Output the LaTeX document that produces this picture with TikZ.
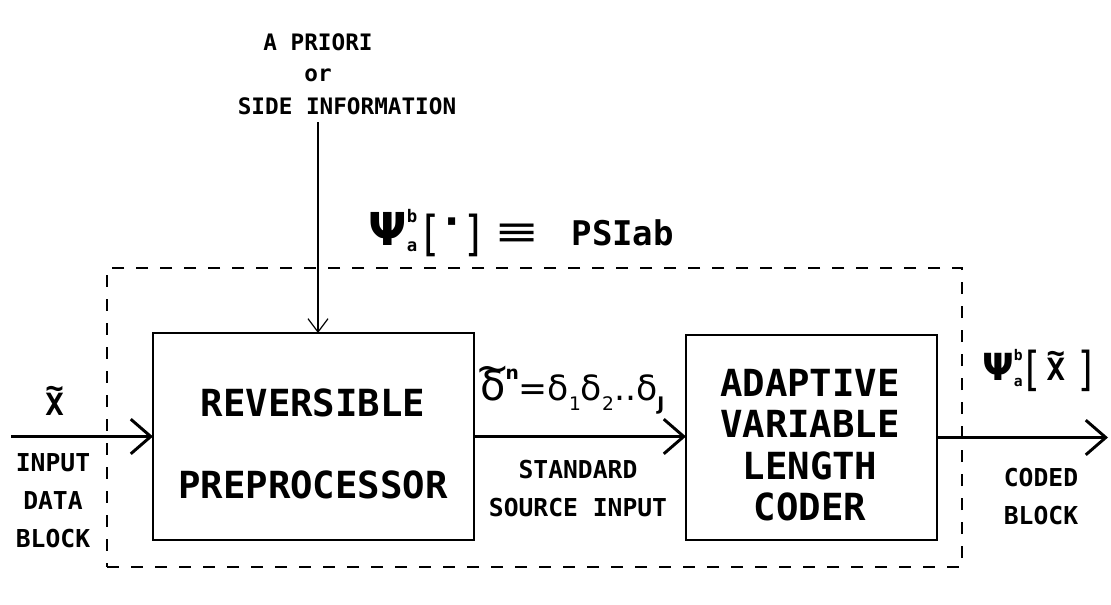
\documentclass[tikz,border=0pt]{standalone}
\usepackage{fontspec}
\setmainfont{DejaVu Sans Mono}[BoldFont={DejaVu Sans Mono Bold}]
\newfontfamily\gk{DejaVu Sans}
\usetikzlibrary{arrows.meta}
\newcommand\fs[1]{\fontsize{#1}{#1}\selectfont}
\newcommand\tildeon[2]{\leavevmode\setbox0=\hbox{#2}\rlap{\hbox to\wd0{\hss\raisebox{#1}{\textasciitilde}\hss}}\box0}
\begin{document}
\begin{tikzpicture}[x=0.75pt,y=-0.75pt,
  box/.style={draw, line width=2.2pt, inner sep=0pt, outer sep=0pt},
  dbox/.style={draw, line width=1.4pt, dash pattern=on 9pt off 9pt, inner sep=0pt, outer sep=0pt},
  arr/.style={line width=2.2pt, -{Straight Barb[length=15pt,width=26pt]}},
  thinarr/.style={line width=0.9pt, -{Straight Barb[length=10pt,width=15pt]}},
  big/.style={font=\fontsize{28}{31}\selectfont\bfseries, align=center, inner sep=0pt},
  lab/.style={font=\fontsize{18.5}{28.5}\selectfont\bfseries, align=center, inner sep=0pt},
  toplab/.style={font=\fontsize{17}{25}\selectfont\bfseries, inner sep=0pt},
  mlab/.style={inner sep=0pt, anchor=base west}]
\useasboundingbox (0,0) rectangle (1111,604);

% frames
\node[dbox, minimum width=641.25pt, minimum height=224.25pt] (frame) at (534.5,417.5) {};
\node[box, minimum width=240.75pt, minimum height=155.25pt] (pre) at (313.5,436.5) {};
\node[box, minimum width=188.25pt, minimum height=153.75pt] (coder) at (811.5,437.5) {};

% box texts
\node[big] (t1) at (313,403) {REVERSIBLE};
\node[big] (t2) at (313,485) {PREPROCESSOR};
\node[big] (t3) at (810,445) {ADAPTIVE\\VARIABLE\\LENGTH\\CODER};

% labels
\node[lab] (inlab) at (53,501) {INPUT\\DATA\\BLOCK};
\node[lab] (stdlab) at (578,489) {STANDARD\\SOURCE INPUT};
\node[lab] (codlab) at (1041,497) {CODED\\BLOCK};

\node[toplab] (ap1) at (318,42) {A PRIORI};
\node[toplab] (ap2) at (318,75) {or};
\node[toplab] (ap3) at (347,106) {SIDE INFORMATION};

% math labels
\node[mlab] (psitop) at (368,245) {{\gk\bfseries\fs{34}Ψ}\rlap{\raisebox{17pt}{\fs{13}\bfseries b}}\raisebox{-5pt}{\fs{13}\bfseries a}\hspace{5pt}{\gk\fs{30}\raisebox{-4pt}{\scalebox{1}[1.2]{[}}\hspace{4pt}\raisebox{7pt}{\textbf{·}}\hspace{4pt}\raisebox{-4pt}{\scalebox{1}[1.2]{]}}}\hspace{10pt}{\gk\fs{30}\scalebox{1.35}[1]{≡}}\hspace{24pt}{\fs{25.5}\bfseries PSIab}};

\node[mlab] (psiout) at (982,380) {{\gk\bfseries\fs{28}Ψ}\rlap{\raisebox{15pt}{\fs{11}\bfseries b}}\raisebox{-5pt}{\fs{11}\bfseries a}\hspace{2pt}{\gk\fs{28}\raisebox{-4pt}{\scalebox{1}[1.25]{[}}}\hspace{5pt}{\fs{23}\bfseries\tildeon{0.55em}{X}}\hspace{10pt}{\gk\fs{28}\raisebox{-4pt}{\scalebox{1}[1.25]{]}}}};

\node[mlab] (xin) at (45,415) {\fs{23}\bfseries\tildeon{0.55em}{X}};

\node[mlab] (delta) at (480,400) {\gk\fs{31}\tildeon{0.42em}{δ}\raisebox{0.5em}{\fs{14}\bfseries n}\fs{26}=δ\raisebox{-0.3em}{\fs{14}1}δ\raisebox{-0.3em}{\fs{14}2}..δ\raisebox{-0.3em}{\fs{14}\bfseries J}};

% connectors
\coordinate (inS) at (12,437);
\coordinate (outE) at (1108,440);
\coordinate (topS) at (318,122);
\draw[arr] (inS) -- (inS |- pre.west) -- (pre.west);
\draw[arr] (pre.east) -- (pre.east -| coder.west);
\draw[arr] (coder.east) -- (coder.east -| outE);
\draw[thinarr] (topS) -- (topS |- pre.north);
\end{tikzpicture}
\end{document}
